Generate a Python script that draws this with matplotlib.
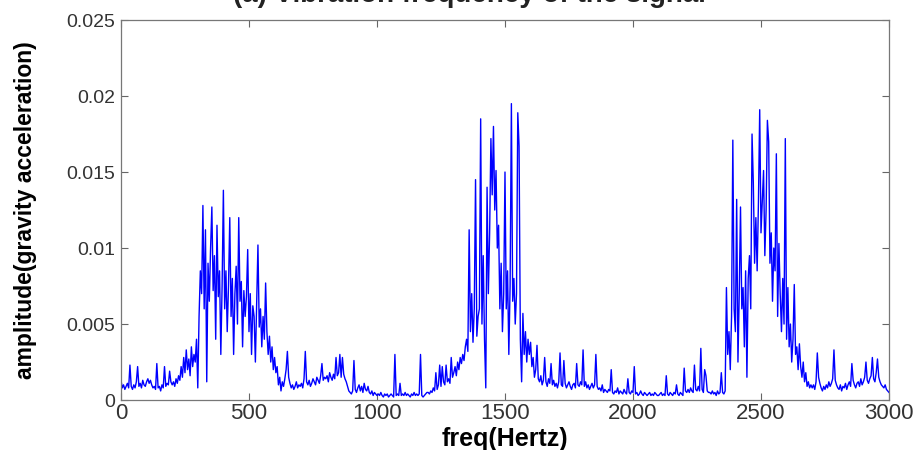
import numpy as np
import matplotlib
matplotlib.use("Agg")
import matplotlib.pyplot as plt

plt.rcParams['font.family'] = ['Liberation Sans', 'DejaVu Sans']

# spectrum, one value every 5 Hz, in units of 1e-4 g
F_STEP = 5
AMP_UNIT = 1e-4
amp_0_to_1000 = [
    13, 8, 10, 7, 9, 11, 8, 23, 9, 7, 10, 8, 12, 22, 9, 11, 8, 13, 10, 9,
    12, 14, 11, 13, 10, 8, 9, 7, 24, 8, 9, 6, 10, 8, 22, 9, 11, 10, 19, 12,
    10, 12, 9, 14, 11, 16, 13, 22, 15, 28, 18, 33, 20, 27, 16, 35, 22, 30, 25, 40,
    8, 55, 85, 70, 128, 60, 112, 12, 90, 65, 100, 127, 72, 95, 40, 115, 68, 85, 30, 75,
    138, 60, 85, 45, 75, 120, 55, 80, 30, 70, 88, 50, 120, 65, 78, 35, 72, 55, 68, 99,
    45, 70, 30, 62, 55, 25, 65, 102, 48, 60, 35, 55, 40, 77, 45, 30, 42, 25, 35, 20,
    28, 18, 22, 10, 15, 6, 12, 9, 14, 20, 32, 15, 11, 8, 10, 7, 9, 12, 8, 10,
    9, 11, 8, 14, 32, 12, 10, 13, 9, 11, 14, 12, 10, 15, 13, 11, 16, 24, 13, 15,
    14, 16, 12, 18, 15, 13, 17, 14, 28, 16, 18, 30, 15, 28, 17, 14, 12, 9, 6, 5,
    4, 6, 26, 7, 5, 8, 10, 6, 9, 5, 11, 7, 6, 9, 5, 4, 6, 3, 5, 4,
]
amp_1000_to_2000 = [
    3, 4, 3, 5, 3, 2, 4, 3, 4, 2, 3, 4, 3, 2, 30, 3, 4, 3, 11, 3,
    4, 3, 5, 3, 4, 3, 2, 4, 3, 5, 3, 4, 3, 4, 30, 3, 2, 3, 4, 5,
    5, 4, 6, 5, 8, 6, 18, 7, 10, 23, 9, 22, 12, 10, 23, 12, 14, 11, 28, 15,
    18, 22, 16, 25, 20, 28, 24, 30, 26, 35, 40, 32, 112, 45, 70, 38, 60, 145, 42, 55,
    60, 185, 50, 95, 40, 8, 140, 70, 110, 172, 135, 180, 125, 151, 100, 115, 60, 90, 45, 70,
    150, 60, 85, 30, 75, 195, 65, 80, 50, 70, 189, 167, 40, 12, 57, 30, 45, 25, 40, 30,
    38, 22, 28, 15, 20, 36, 14, 12, 16, 10, 13, 28, 12, 9, 14, 11, 24, 10, 13, 9,
    11, 8, 12, 31, 10, 9, 26, 11, 8, 10, 12, 9, 7, 10, 11, 8, 24, 10, 9, 12,
    10, 33, 9, 12, 8, 10, 7, 9, 11, 8, 10, 30, 9, 7, 8, 6, 10, 5, 7, 6,
    5, 7, 6, 20, 5, 4, 6, 5, 8, 4, 6, 5, 4, 7, 5, 4, 14, 5, 4, 6,
]
amp_2000_to_3000 = [
    5, 22, 4, 5, 3, 4, 6, 4, 3, 5, 4, 3, 4, 5, 3, 4, 3, 5, 4, 3,
    3, 4, 5, 3, 4, 3, 16, 4, 3, 5, 4, 3, 5, 4, 10, 4, 3, 5, 4, 3,
    21, 6, 5, 7, 5, 8, 6, 5, 23, 7, 6, 9, 6, 34, 7, 5, 20, 16, 6, 5,
    5, 4, 6, 4, 5, 3, 6, 4, 5, 18, 5, 4, 6, 74, 30, 45, 20, 55, 171, 60,
    45, 132, 25, 70, 127, 60, 74, 35, 85, 15, 80, 95, 60, 175, 143, 90, 120, 85, 130, 191,
    110, 130, 151, 95, 125, 184, 170, 90, 110, 65, 100, 85, 162, 55, 103, 70, 45, 80, 50, 172,
    40, 74, 35, 50, 25, 40, 76, 30, 35, 20, 37, 22, 15, 25, 12, 18, 9, 12, 8, 10,
    8, 10, 7, 12, 31, 15, 11, 8, 6, 9, 7, 10, 8, 12, 9, 11, 14, 33, 13, 10,
    8, 7, 10, 6, 9, 8, 11, 7, 10, 12, 9, 24, 13, 10, 8, 11, 12, 9, 14, 10,
    12, 15, 25, 13, 11, 14, 16, 28, 14, 12, 18, 27, 15, 12, 10, 9, 8, 10, 7, 6, 5,
]

x_ticks = [0, 500, 1000, 1500, 2000, 2500, 3000]
y_ticks = [0, 0.005, 0.01, 0.015, 0.02, 0.025]
y_tick_labels = ["0", "0.005", "0.01", "0.015", "0.02", "0.025"]

amp = np.array(amp_0_to_1000 + amp_1000_to_2000 + amp_2000_to_3000) * AMP_UNIT
freq = np.arange(len(amp)) * F_STEP

fig = plt.figure(figsize=(9.2, 4.5), dpi=100)
ax = fig.add_axes([0.1315, 0.111, 0.8348, 0.8445])
ax.plot(freq, amp, color="#0000ff", lw=1.0)

ax.set_xlim(0, 3000)
ax.set_ylim(0, 0.025)
ax.set_xticks(x_ticks)
ax.set_yticks(y_ticks)
ax.set_yticklabels(y_tick_labels)
ax.tick_params(direction="in", top=True, right=True, length=5, width=0.8, color="#666666")
ax.tick_params(axis="x", labelsize=16, pad=2, labelcolor="#333333")
ax.tick_params(axis="y", labelsize=14, pad=4, labelcolor="#333333")
for s in ax.spines.values():
    s.set_color("#777777")
    s.set_linewidth(0.9)

ax.set_xlabel("freq(Hertz)", fontsize=18, fontweight="bold")
ax.xaxis.set_label_coords(0.5, -0.072)
ax.set_ylabel("amplitude(gravity acceleration)", fontsize=16.5, fontweight="bold")
ax.yaxis.set_label_coords(-0.109, 0.5)

# title is clipped by the top edge in the source image
fig.text(0.51, 0.996, "(a) Vibration frequency of the signal", ha="center",
         va="baseline", fontsize=20, fontweight="bold", color="#222222")

fig.savefig("out.png", dpi=100)
